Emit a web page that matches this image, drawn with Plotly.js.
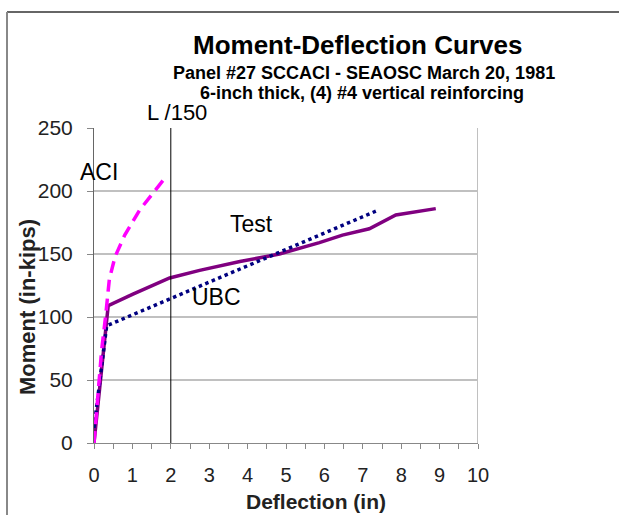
<!DOCTYPE html>
<html>
<head>
<meta charset="utf-8">
<script src="https://cdn.plot.ly/plotly-3.0.1.min.js"></script>
<style>html,body{margin:0;padding:0;background:#fff;}#chart{width:619px;height:515px;}</style>
</head>
<body>
<div id="chart"></div>
<script>
// Data
const testX = [0, 0.37, 1.0, 1.97, 2.75, 3.8, 4.83, 5.87, 6.47, 7.17, 7.86, 8.9];
const testY = [0, 109, 118, 131, 137, 144, 150, 159, 165, 170, 181, 186];
const ubcX = [0, 0.33, 7.34];
const ubcY = [12, 93, 184];
const aciX = [0, 0.2, 0.3, 0.4, 0.55, 0.8, 1.19, 1.5, 1.84];
const aciY = [0, 74, 100, 130, 148, 165, 185, 197, 210];
const xTickVals = [0, 1, 2, 3, 4, 5, 6, 7, 8, 9, 10];
const yTickVals = [0, 50, 100, 150, 200, 250];
const limitX = 2;
const limitLabel = 'L /150';
const seriesLabels = [
  {text: 'ACI', x: 0.13, y: 215},
  {text: 'Test', x: 4.11, y: 174},
  {text: 'UBC', x: 3.2, y: 116}
];

const FONT = 'Arial, "Liberation Sans", sans-serif';
const L = 94, R = 141, T = 128, B = 72;
const W = 619, H = 515;
const pw = W - L - R, ph = H - T - B;
const px2paper = px => (px - L) / pw;
const py2paper = py => (H - B - py) / ph;

const traces = [
  {x: testX, y: testY, mode: 'lines', line: {color: '#800080', width: 3.5}, hoverinfo: 'skip'},
  {x: ubcX, y: ubcY, mode: 'lines', line: {color: '#000080', width: 3.5, dash: 'dot'}, hoverinfo: 'skip'},
  {x: aciX, y: aciY, mode: 'lines', line: {color: '#ff00ff', width: 3.5, dash: '12px,7px'}, hoverinfo: 'skip'}
];

const annotations = [
  {text: '<b>Moment-Deflection Curves</b>', xref: 'paper', yref: 'paper', x: px2paper(357), y: py2paper(45), showarrow: false, font: {family: FONT, size: 26, color: '#000'}, xanchor: 'center', yanchor: 'middle'},
  {text: '<b>Panel #27 SCCACI - SEAOSC March 20, 1981</b>', xref: 'paper', yref: 'paper', x: px2paper(364), y: py2paper(73), showarrow: false, font: {family: FONT, size: 18, color: '#000'}, xanchor: 'center', yanchor: 'middle'},
  {text: '<b>6-inch thick, (4) #4 vertical reinforcing</b>', xref: 'paper', yref: 'paper', x: px2paper(362), y: py2paper(93), showarrow: false, font: {family: FONT, size: 18, color: '#000'}, xanchor: 'center', yanchor: 'middle'},
  {text: limitLabel, xref: 'x', yref: 'paper', x: limitX + 0.15, y: py2paper(113), showarrow: false, font: {family: FONT, size: 22, color: '#000'}, xanchor: 'center', yanchor: 'middle'},
  {text: '<b>Deflection (in)</b>', xref: 'paper', yref: 'paper', x: px2paper(316), y: py2paper(501), showarrow: false, font: {family: FONT, size: 21, color: '#222'}, xanchor: 'center', yanchor: 'middle'},
  {text: '<b>Moment (in-kips)</b>', xref: 'paper', yref: 'paper', x: px2paper(27), y: py2paper(307), showarrow: false, textangle: -90, font: {family: FONT, size: 22, color: '#222'}, xanchor: 'center', yanchor: 'middle'}
].concat(seriesLabels.map(s => ({text: s.text, x: s.x, y: s.y, xref: 'x', yref: 'y', showarrow: false, font: {family: FONT, size: 23, color: '#000'}, xanchor: 'center', yanchor: 'middle'})));

const shapes = [
  {type: 'line', xref: 'x', yref: 'y', x0: limitX, x1: limitX, y0: 0, y1: 251, line: {color: '#000', width: 1}},
  {type: 'line', xref: 'x', yref: 'y', x0: 10, x1: 10, y0: 0, y1: 250, line: {color: '#c0c0c0', width: 2}},
  {type: 'line', xref: 'paper', yref: 'paper', x0: px2paper(7), x1: px2paper(625), y0: py2paper(12), y1: py2paper(12), line: {color: '#666', width: 2}},
  {type: 'line', xref: 'paper', yref: 'paper', x0: px2paper(7), x1: px2paper(7), y0: py2paper(12), y1: py2paper(520), line: {color: '#888', width: 2}}
];

const layout = {
  width: W, height: H,
  margin: {l: L, r: R, t: T, b: B, pad: 0},
  paper_bgcolor: '#fff', plot_bgcolor: '#fff',
  showlegend: false,
  font: {family: FONT, color: '#222'},
  xaxis: {
    range: [0, 10], tickvals: xTickVals, ticks: 'outside', ticklen: 5, tickcolor: '#888', tickwidth: 1,
    minor: {dtick: 0.5, ticks: 'outside', ticklen: 5, tickcolor: '#888', tickwidth: 1, showgrid: false},
    showgrid: false, zeroline: false, showline: true, linecolor: '#888', linewidth: 1,
    tickfont: {family: FONT, size: 20, color: '#222'}, ticklabelstandoff: 9
  },
  yaxis: {
    range: [0, 250], tickvals: yTickVals, ticks: 'outside', ticklen: 6, tickcolor: '#888', tickwidth: 1,
    showgrid: true, gridcolor: '#c0c0c0', gridwidth: 2, zeroline: false, showline: true, linecolor: '#666', linewidth: 1,
    tickfont: {family: FONT, size: 21, color: '#222'}, ticklabelstandoff: 10
  },
  annotations: annotations,
  shapes: shapes
};

Plotly.newPlot('chart', traces, layout, {staticPlot: true, displayModeBar: false});
</script>
</body>
</html>
